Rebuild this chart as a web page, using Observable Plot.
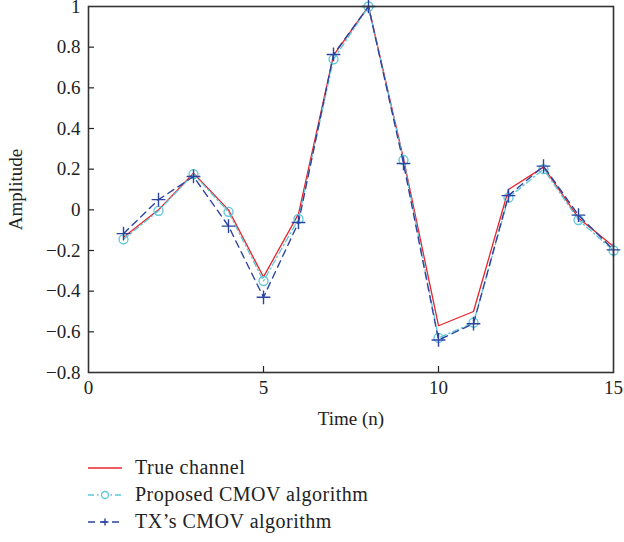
<!DOCTYPE html>
<html>
<head>
<meta charset="utf-8">
<script src="https://cdn.jsdelivr.net/npm/d3@7"></script>
<script src="https://cdn.jsdelivr.net/npm/@observablehq/plot@0.6"></script>
<style>
  body { margin: 0; background: #fff; }
  #chart { width: 624px; height: 440px; }
  #chart svg { display: block; }
  .legend { font-family: "Liberation Serif", serif; font-size: 20px; letter-spacing: 0.5px; color: #222; padding-top: 14px; }
  .row { display: flex; align-items: center; height: 27px; }
  .row svg { margin-left: 88px; margin-right: 12px; }
</style>
</head>
<body>
<div id="chart"></div>
<script>
const time = [1, 2, 3, 4, 5, 6, 7, 8, 9, 10, 11, 12, 13, 14, 15];
const trueChannel = [-0.135, 0.0, 0.18, 0.0, -0.33, -0.02, 0.76, 1.0, 0.25, -0.57, -0.50, 0.10, 0.21, -0.04, -0.18];
const proposedCMOV = [-0.145, -0.005, 0.176, -0.01, -0.35, -0.045, 0.74, 1.0, 0.245, -0.63, -0.555, 0.06, 0.20, -0.05, -0.20];
const txCMOV = [-0.117, 0.05, 0.164, -0.08, -0.43, -0.062, 0.764, 1.0, 0.228, -0.64, -0.56, 0.07, 0.215, -0.026, -0.197];
const xTicks = [0, 5, 10, 15];
const yTicks = [-0.8, -0.6, -0.4, -0.2, 0, 0.2, 0.4, 0.6, 0.8, 1];
const seriesNames = ["True channel", "Proposed CMOV algorithm", "TX\u2019s CMOV algorithm"];
const colors = { red: "#e8242b", cyan: "#5cc6d8", blue: "#2c44a0" };

const mk = (vals) => time.map((t, i) => ({ t, v: vals[i] }));
const dTrue = mk(trueChannel), dProp = mk(proposedCMOV), dTx = mk(txCMOV);
const fmt = (d) => (d < 0 ? "\u2212" : "") + String(Math.abs(+d.toFixed(1)));

const plot = Plot.plot({
  width: 624,
  height: 440,
  marginLeft: 88,
  marginRight: 11,
  marginTop: 6,
  marginBottom: 68,
  style: { fontFamily: "Liberation Serif, serif", fontSize: "19px", color: "#222", background: "#fff", overflow: "visible" },
  x: { domain: [0, 15] },
  y: { domain: [-0.8, 1] },
  marks: [
    Plot.axisX(xTicks, { tickSize: 0, tickPadding: 8, tickFormat: fmt, label: "Time (n)", labelAnchor: "center", labelOffset: 52, labelArrow: "none", fontSize: 19 }),
    Plot.axisX(xTicks.slice(1, 3), { tickSize: -6, tickFormat: () => "", label: null, stroke: "#222", strokeWidth: 1.2 }),
    Plot.axisY(yTicks, { tickSize: 0, tickPadding: 8, tickFormat: fmt, label: "Amplitude", labelAnchor: "center", labelOffset: 80, labelArrow: "none", fontSize: 19 }),
    Plot.axisY(yTicks.slice(1, -1), { tickSize: -6, tickFormat: () => "", label: null, stroke: "#222", strokeWidth: 1.2 }),
    Plot.line(dTrue, { x: "t", y: "v", stroke: colors.red, strokeWidth: 1.3 }),
    Plot.line(dProp, { x: "t", y: "v", stroke: colors.cyan, strokeWidth: 1.3, strokeDasharray: "6,3,1.5,3" }),
    Plot.dot(dProp, { x: "t", y: "v", r: 4.5, stroke: colors.cyan, strokeWidth: 1.3, fill: "none" }),
    Plot.line(dTx, { x: "t", y: "v", stroke: colors.blue, strokeWidth: 1.4, strokeDasharray: "7,5" }),
    Plot.dot(dTx, { x: "t", y: "v", r: 4.5, symbol: "plus", stroke: colors.blue, strokeWidth: 1.4 }),
    Plot.frame({ stroke: "#333", strokeWidth: 1.6 })
  ]
});
document.getElementById("chart").appendChild(plot);

// Legend below the chart
const legend = document.createElement("div");
legend.className = "legend";
const samples = [
  `<line x1="0" y1="7" x2="34" y2="7" stroke="${colors.red}" stroke-width="1.3"/>`,
  `<line x1="0" y1="7" x2="34" y2="7" stroke="${colors.cyan}" stroke-width="1.3" stroke-dasharray="6,3,1.5,3"/><circle cx="17" cy="7" r="3.5" fill="#fff" stroke="${colors.cyan}" stroke-width="1.3"/>`,
  `<line x1="0" y1="7" x2="34" y2="7" stroke="${colors.blue}" stroke-width="1.4" stroke-dasharray="7,5"/><path d="M13.5,7H20.5M17,3.5V10.5" stroke="${colors.blue}" stroke-width="1.4"/>`
];
seriesNames.forEach((name, i) => {
  const row = document.createElement("div");
  row.className = "row";
  row.innerHTML = `<svg width="35" height="14">${samples[i]}</svg><span>${name}</span>`;
  legend.appendChild(row);
});
document.body.appendChild(legend);
</script>
</body>
</html>
